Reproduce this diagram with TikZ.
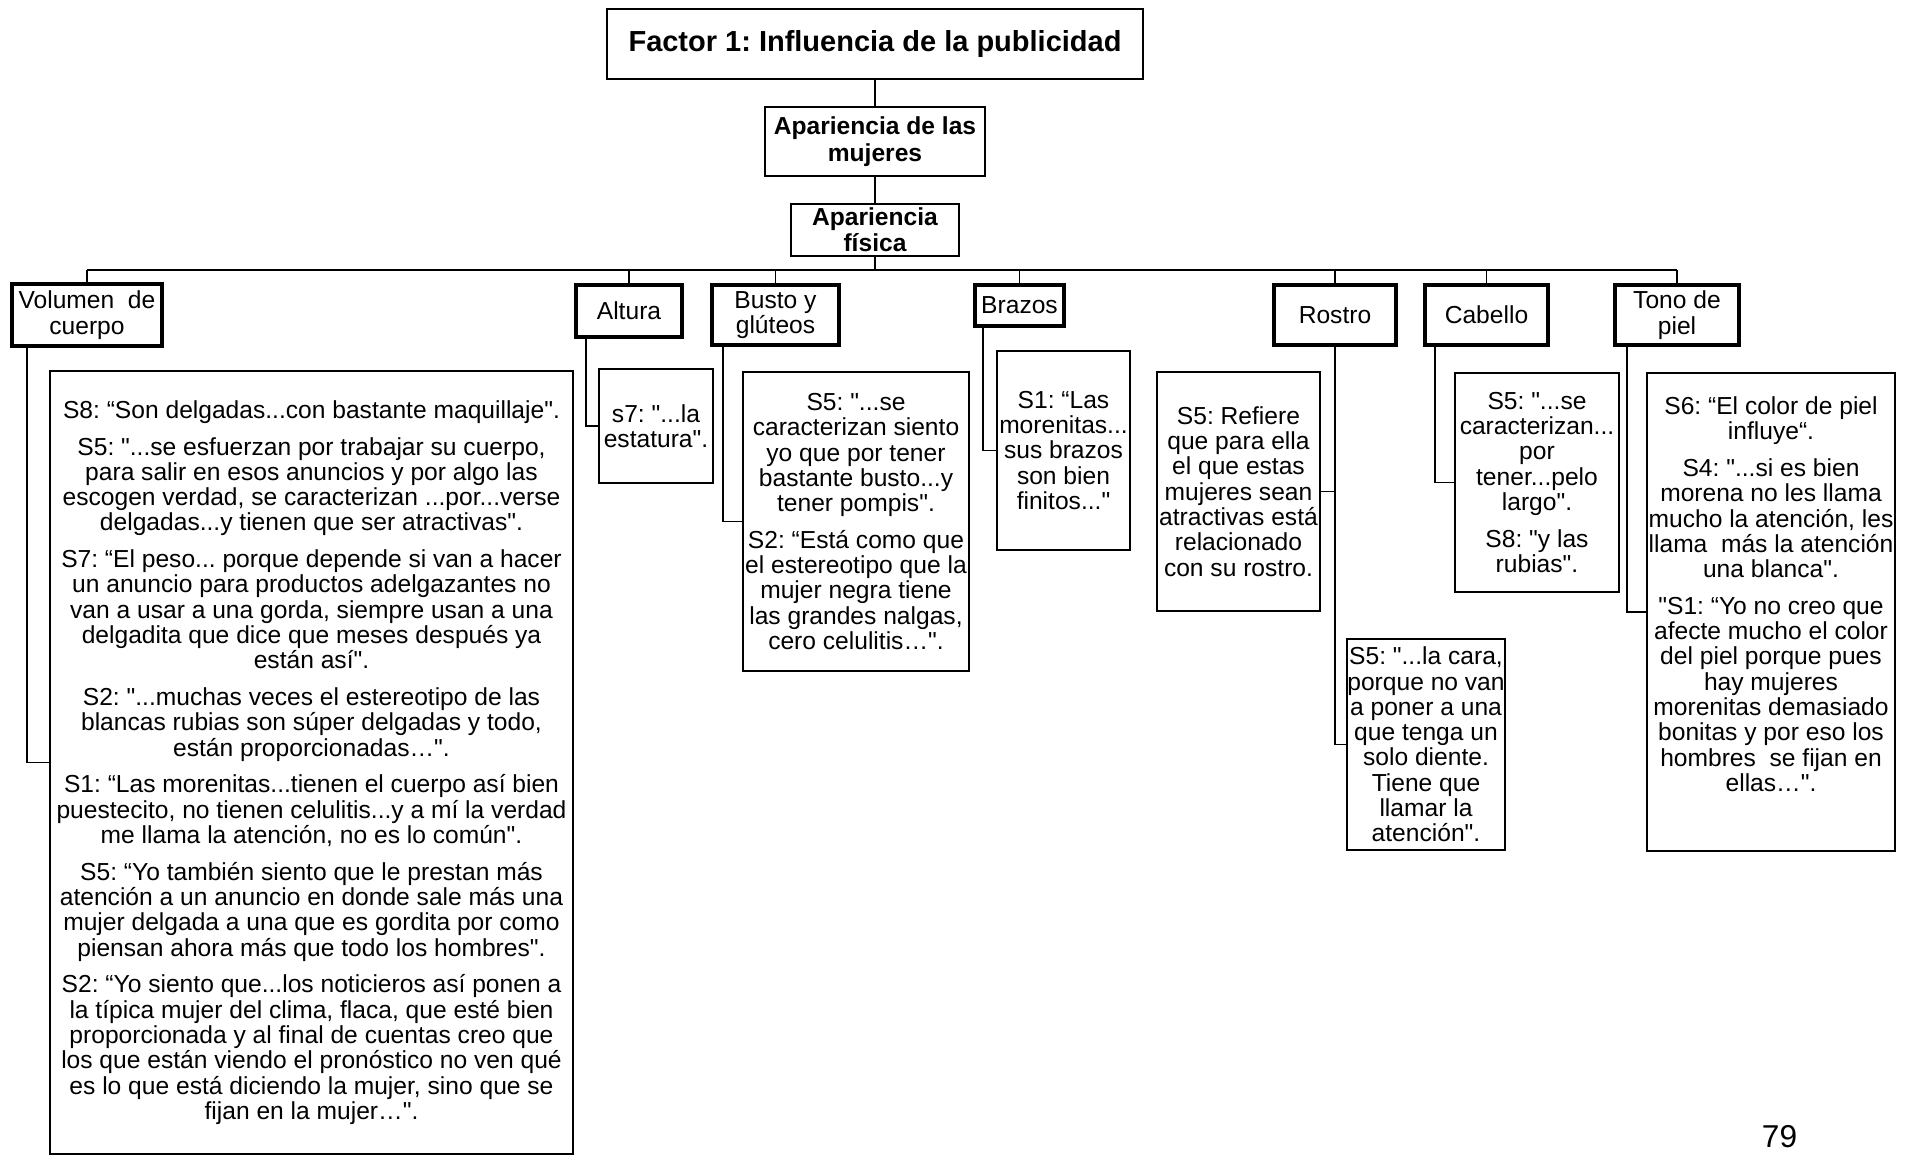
\documentclass[tikz,border=0pt]{standalone}
\usepackage{fontspec}
\setmainfont{Liberation Sans}[Ligatures=TeXOff]
\usepackage{tikz}
\usetikzlibrary{positioning}
\frenchspacing
\newcommand{\qtxt}{\fontsize{14}{14.4}\selectfont}
\newcommand{\pgap}{\\[6.5pt]}

\begin{document}
\begin{tikzpicture}[x=0.02cm, y=-0.02cm,
          topbox/.style={draw, line width=1.2pt, inner sep=0pt, align=center,
                         font=\bfseries\fontsize{14}{15}\selectfont},
          catbox/.style={draw, line width=2.4pt, inner sep=0pt, align=center,
                         font=\qtxt},
          qbox/.style={draw, line width=1pt, inner sep=0pt, align=center,
                       font=\qtxt},
          link/.style={draw, line width=1.1pt}
        ]
        \useasboundingbox (0,0) rectangle (1908,1158);

        % top of the tree
        \node[topbox, minimum width=10.72cm, minimum height=1.40cm,
              font=\bfseries\fontsize{16.5}{18}\selectfont]
              (fac) at (875, 44) {Factor 1: Influencia de la publicidad};
        \node[topbox, minimum width=4.40cm, minimum height=1.38cm]
              (muj) at (875, 141.5) {Apariencia de las\\mujeres};
        \node[topbox, minimum width=3.36cm, minimum height=1.04cm]
              (fis) at (875, 230) {Apariencia\\física};

        % categories
        \node[catbox, minimum width=3.00cm, minimum height=1.24cm]
              (vol) at (87, 315) {Volumen\ \ de\\cuerpo};
        \node[catbox, minimum width=2.12cm, minimum height=1.04cm]
              (alt) at (629, 311) {Altura};
        \node[catbox, minimum width=2.54cm, minimum height=1.20cm]
              (bst) at (775.5, 315) {Busto y\\glúteos};
        \node[catbox, minimum width=1.78cm, minimum height=0.82cm]
              (bra) at (1019.5, 305.5) {Brazos};
        \node[catbox, minimum width=2.44cm, minimum height=1.20cm]
              (ros) at (1335, 315) {Rostro};
        \node[catbox, minimum width=2.46cm, minimum height=1.20cm]
              (cab) at (1486.5, 315) {Cabello};
        \node[catbox, minimum width=2.48cm, minimum height=1.20cm]
              (ton) at (1677, 315) {Tono de\\piel};

        % quotes
        \node[qbox, minimum width=10.46cm, minimum height=15.66cm]
              (qvol) at (311.5, 762.5)
              {S8: “Son delgadas...con bastante maquillaje".\pgap
               S5: "...se esfuerzan por trabajar su cuerpo,\\
               para salir en esos anuncios y por algo las\\
               escogen verdad, se caracterizan ...por...verse\\
               delgadas...y tienen que ser atractivas".\pgap
               S7: “El peso... porque depende si van a hacer\\
               un anuncio para productos adelgazantes no\\
               van a usar a una gorda, siempre usan a una\\
               delgadita que dice que meses después ya\\
               están así".\pgap
               S2: "...muchas veces el estereotipo de las\\
               blancas rubias son súper delgadas y todo,\\
               están proporcionadas…".\pgap
               S1: “Las morenitas...tienen el cuerpo así bien\\
               puestecito, no tienen celulitis...y a mí la verdad\\
               me llama la atención, no es lo común".\pgap
               S5: “Yo también siento que le prestan más\\
               atención a un anuncio en donde sale más una\\
               mujer delgada a una que es gordita por como\\
               piensan ahora más que todo los hombres".\pgap
               S2: “Yo siento que...los noticieros así ponen a\\
               la típica mujer del clima, flaca, que esté bien\\
               proporcionada y al final de cuentas creo que\\
               los que están viendo el pronóstico no ven qué\\
               es lo que está diciendo la mujer, sino que se\\
               fijan en la mujer…".};
        \node[qbox, minimum width=2.28cm, minimum height=2.28cm]
              (qalt) at (656, 426) {s7: "...la\\estatura".};
        \node[qbox, minimum width=4.52cm, minimum height=5.98cm]
              (qbst) at (856, 521.5)
              {S5: "...se\\caracterizan siento\\yo que por tener\\
               bastante busto...y\\tener pompis".\pgap
               S2: “Está como que\\el estereotipo que la\\mujer negra tiene\\
               las grandes nalgas,\\cero celulitis…".};
        \node[qbox, minimum width=2.66cm, minimum height=3.98cm]
              (qbra) at (1063.5, 450.5)
              {S1: “Las\\morenitas...\\sus brazos\\son bien\\finitos..."};
        \node[qbox, minimum width=3.26cm, minimum height=4.78cm]
              (qros) at (1238.5, 491.5)
              {S5: Refiere\\que para ella\\el que estas\\mujeres sean\\
               atractivas está\\relacionado\\con su rostro.};
        \node[qbox, minimum width=2.88cm, minimum height=4.22cm]
              (qrosb) at (1426, 744.5)
              {S5: "...la cara,\\porque no van\\a poner a una\\que tenga un\\
               solo diente.\\Tiene que\\llamar la\\atención".};
        \node[qbox, minimum width=3.28cm, minimum height=4.38cm]
              (qcab) at (1537, 482.5)
              {S5: "...se\\caracterizan...\\por\\tener...pelo\\largo".\pgap
               S8: "y las\\rubias".};
        \node[qbox, minimum width=4.96cm, minimum height=9.56cm]
              (qton) at (1771, 612)
              {S6: “El color de piel\\influye“.\pgap
               S4: "...si es bien\\morena no les llama\\mucho la atención, les\\
               llama\ \ más la atención\\una blanca".\pgap
               "S1: “Yo no creo que\\afecte mucho el color\\del piel porque pues\\
               hay mujeres\\morenitas demasiado\\bonitas y por eso los\\
               hombres\ \ se fijan en\\ellas…".\rule[-0.72cm]{0pt}{0pt}};

        \node[font=\fontsize{18}{20}\selectfont] (pnum) at (1779.5, 1137) {79};

        % connectors
        \coordinate (rail) at (0, 270);
        \draw[link] (fac) -- (muj);
        \draw[link] (muj) -- (fis);
        \draw[link] (fis) -- (fis.south |- rail);
        \draw[link] (vol.north |- rail) -- (ton.north |- rail);
        \foreach \c in {vol, alt, bst, bra, ros, cab, ton}
          \draw[link] (\c.north) -- (\c.north |- rail);
        \foreach \c/\d in {vol/0.34, alt/0.24, bst/0.26, bra/0.2, cab/0.24, ton/0.28}
          \draw[link] ([xshift=\d cm]\c.south west) |- (q\c.west);
        \draw[link] (ros.south) |- (qrosb.west);
        \draw[link] (qros.east) -- (qros.east -| ros.south);
      \end{tikzpicture}
\end{document}
